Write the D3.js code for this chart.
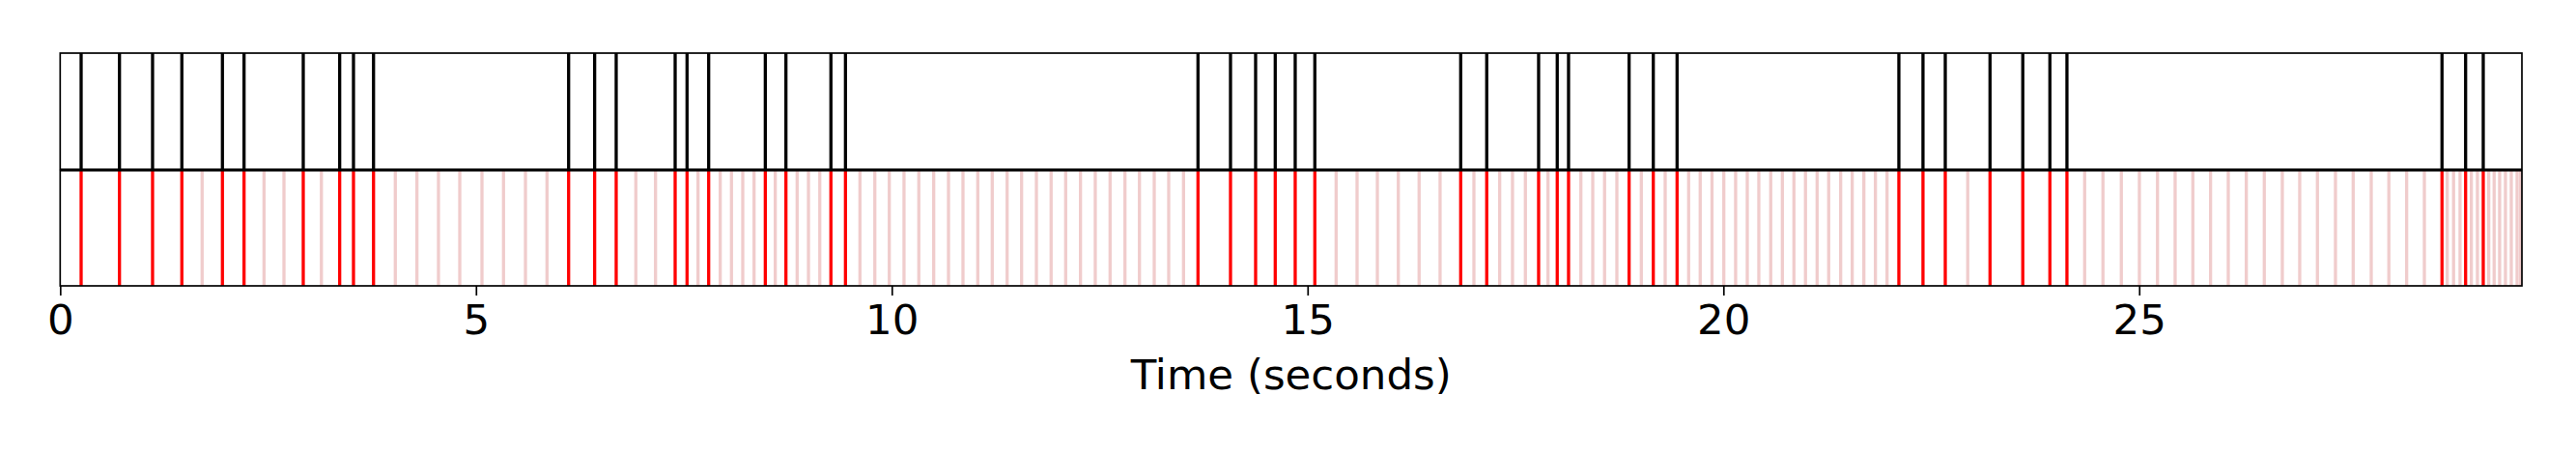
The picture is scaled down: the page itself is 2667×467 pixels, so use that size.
<!DOCTYPE html>
<html>
<head>
<meta charset="utf-8">
<script src="https://cdn.jsdelivr.net/npm/d3@7"></script>
<style>
  html, body { margin: 0; padding: 0; background: #fff; }
  svg { display: block; }
</style>
</head>
<body>
<svg id="chart" width="2667" height="467"></svg>
<script>
// Onset times (seconds), black in top panel, red in bottom panel
const onsets = [
  0.252, 0.713, 1.111, 1.463, 1.951, 2.211, 2.923, 3.361, 3.527, 3.768,
  6.114, 6.427, 6.686, 7.395, 7.538, 7.798, 8.479, 8.727, 9.268, 9.443,
  13.682, 14.073, 14.375, 14.611, 14.851, 15.087,
  16.841, 17.154, 17.778, 18.002, 18.138, 18.866, 19.157, 19.443,
  22.110, 22.400, 22.668, 23.206, 23.600, 23.926, 24.131,
  28.641, 28.925, 29.137
];
// Light grid times (seconds), pale red in bottom panel
const gridTimes = [
  1.707, 2.451, 2.691, 3.141, 4.030, 4.290, 4.549, 4.805, 5.072, 5.331, 5.595, 5.854,
  6.922, 7.159, 7.670, 7.937, 8.072, 8.208, 8.344, 8.599, 8.862, 8.998, 9.134,
  9.617, 9.796, 9.970, 10.147, 10.325, 10.504, 10.682, 10.856, 11.034, 11.208, 11.387,
  11.561, 11.739, 11.916, 12.091, 12.269, 12.447, 12.625, 12.804, 12.978, 13.156, 13.330, 13.508,
  15.343, 15.595, 15.839, 16.091, 16.341, 16.593, 17.000, 17.310, 17.464, 17.619, 17.891,
  18.286, 18.429, 18.571, 18.719, 19.013, 19.300, 19.582, 19.721, 19.863, 20.005, 20.147,
  20.287, 20.426, 20.569, 20.709, 20.848, 20.987, 21.127, 21.266, 21.410, 21.549, 21.689,
  21.828, 21.968, 22.938, 24.344, 24.564, 24.785, 25.002, 25.220, 25.432, 25.645, 25.858,
  26.071, 26.288, 26.504, 26.721, 26.930, 27.143, 27.360, 27.573, 27.790, 28.002, 28.216,
  28.429, 28.704, 28.780, 28.858, 28.994, 29.067, 29.203, 29.268, 29.334, 29.404, 29.474,
  29.544, 29.586
];
const xTicks = [0, 5, 10, 15, 20, 25];
const xDomain = [0, 29.602];
const xLabel = "Time (seconds)";

const svg = d3.select("#chart");
const left = 62.3, right = 2611;
const topY0 = 55, topY1 = 175.3;
const botY0 = 176.7, botY1 = 296;

const x = d3.scaleLinear().domain(xDomain).range([left, right]);

// bottom panel: pale grid lines then red onsets
const gBot = svg.append("g");
gBot.selectAll("line.grid").data(gridTimes).join("line")
  .attr("class", "grid")
  .attr("x1", d => x(d)).attr("x2", d => x(d))
  .attr("y1", botY0).attr("y2", botY1)
  .attr("stroke", "#f0cccc").attr("stroke-width", 3.3);
gBot.selectAll("line.on").data(onsets).join("line")
  .attr("class", "on")
  .attr("x1", d => x(d)).attr("x2", d => x(d))
  .attr("y1", botY0).attr("y2", botY1)
  .attr("stroke", "#ff0000").attr("stroke-width", 3.3);

// top panel: black onsets
const gTop = svg.append("g");
gTop.selectAll("line").data(onsets).join("line")
  .attr("x1", d => x(d)).attr("x2", d => x(d))
  .attr("y1", topY0).attr("y2", topY1)
  .attr("stroke", "#000").attr("stroke-width", 3.3);

// frames
[[topY0, topY1], [botY0, botY1]].forEach(([a, b]) => {
  svg.append("rect")
    .attr("x", left).attr("y", a)
    .attr("width", right - left).attr("height", b - a)
    .attr("fill", "none").attr("stroke", "#000").attr("stroke-width", 1.7);
});

// x axis
const axis = d3.axisBottom(x).tickValues(xTicks).tickFormat(d3.format("d"))
  .tickSize(10).tickPadding(9);
const gAx = svg.append("g").attr("transform", `translate(0,${botY1})`).call(axis);
gAx.select(".domain").remove();
gAx.selectAll(".tick line").attr("stroke", "#000").attr("stroke-width", 1.7);
gAx.selectAll(".tick text")
  .attr("font-family", "DejaVu Sans, sans-serif")
  .attr("font-size", 43.5).attr("fill", "#000");

svg.append("text")
  .attr("x", (left + right) / 2).attr("y", 403)
  .attr("text-anchor", "middle")
  .attr("font-family", "DejaVu Sans, sans-serif")
  .attr("font-size", 43.5).attr("fill", "#000")
  .text(xLabel);
</script>
</body>
</html>
